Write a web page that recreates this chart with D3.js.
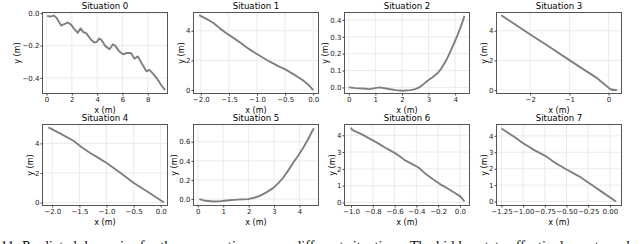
<!DOCTYPE html>
<html lang="en">
<head>
<meta charset="UTF-8">
<title>Predicted dynamics</title>
<style>
  body { margin: 0; background: #fff; }
  svg { display: block; }
  .tick text { font-family: "DejaVu Sans", sans-serif; font-size: 7px; fill: #222; }
  .tick line { stroke: #444; }
</style>
</head>
<body>
<div id="chart"></div>
<script src="https://d3js.org/d3.v7.min.js"></script>
<script>
// ---- data (metres) ----
const titles = ["Situation 0", "Situation 1", "Situation 2", "Situation 3",
                "Situation 4", "Situation 5", "Situation 6", "Situation 7"];

const sit0X = [0.05, 0.27, 0.59, 0.81, 1.16, 1.40, 1.67, 1.94, 2.15, 2.47, 2.69, 2.88, 3.15, 3.50, 3.77, 3.98, 4.17, 4.36, 4.63, 4.98, 5.25, 5.44, 5.71, 6.06, 6.33, 6.67, 6.95, 7.22, 7.54, 7.89, 8.13, 8.43, 8.75, 9.10, 9.37];
const sit0Y = [-0.017, -0.021, -0.015, -0.031, -0.077, -0.067, -0.058, -0.071, -0.094, -0.121, -0.094, -0.115, -0.125, -0.163, -0.181, -0.177, -0.156, -0.167, -0.202, -0.223, -0.192, -0.202, -0.233, -0.254, -0.246, -0.246, -0.281, -0.267, -0.313, -0.359, -0.350, -0.375, -0.406, -0.448, -0.475];

const sit1X = [-2.03, -1.90, -1.78, -1.66, -1.54, -1.40, -1.27, -1.14, -1.01, -0.90, -0.78, -0.63, -0.48, -0.34, -0.19, -0.08, 0.0];
const sit1Y = [5.05, 4.80, 4.54, 4.16, 3.82, 3.47, 3.12, 2.76, 2.45, 2.20, 1.93, 1.63, 1.36, 1.04, 0.68, 0.34, 0.0];

const sit2X = [0.0, 0.25, 0.53, 0.78, 1.15, 1.40, 1.77, 2.02, 2.33, 2.50, 2.65, 2.80, 2.96, 3.15, 3.34, 3.47, 3.59, 3.72, 3.84, 3.97, 4.09, 4.19, 4.28, 4.35];
const sit2Y = [0.0, -0.004, -0.006, -0.010, 0.0, -0.006, -0.016, -0.020, -0.016, -0.010, 0.0, 0.018, 0.040, 0.060, 0.084, 0.110, 0.140, 0.178, 0.220, 0.265, 0.310, 0.350, 0.390, 0.425];

const sit3X = [-2.74, -2.40, -2.0, -1.60, -1.0, -0.60, -0.3, 0.05, 0.20, 0.08];
const sit3Y = [5.05, 4.45, 3.75, 3.07, 2.02, 1.33, 0.82, 0.06, 0.0, 0.0];

const sit4X = [-2.07, -1.84, -1.61, -1.45, -1.30, -1.15, -0.99, -0.74, -0.49, -0.22, 0.06];
const sit4Y = [5.08, 4.65, 4.18, 3.72, 3.35, 3.02, 2.66, 2.00, 1.31, 0.68, 0.0];

const sit5X = [0.06, 0.30, 0.61, 0.85, 1.13, 1.55, 1.98, 2.22, 2.44, 2.70, 2.96, 3.15, 3.35, 3.55, 3.74, 3.94, 4.13, 4.33, 4.52, 4.57];
const sit5Y = [0.0, -0.018, -0.025, -0.024, -0.015, -0.006, 0.0, 0.014, 0.034, 0.070, 0.115, 0.162, 0.220, 0.295, 0.375, 0.450, 0.530, 0.620, 0.720, 0.740];

const sit6X = [-1.0, -0.99, -0.95, -0.90, -0.825, -0.75, -0.67, -0.60, -0.55, -0.508, -0.45, -0.38, -0.32, -0.251, -0.18, -0.12, -0.05, 0.0, 0.043];
const sit6Y = [4.45, 4.32, 4.20, 4.05, 3.78, 3.52, 3.20, 2.95, 2.74, 2.52, 2.33, 2.08, 1.73, 1.40, 1.08, 0.86, 0.58, 0.38, 0.06];

const sit7X = [-1.25, -1.12, -1.00, -0.86, -0.73, -0.62, -0.50, -0.35, -0.22, -0.10, 0.07];
const sit7Y = [4.45, 4.00, 3.55, 3.10, 2.73, 2.32, 1.95, 1.52, 1.05, 0.62, 0.0];

// axis limits and tick labels
const xLims = [[-0.32, 9.56], [-2.13, 0.094], [-0.16, 4.54], [-2.86, 0.33],
               [-2.18, 0.125], [-0.17, 4.75], [-1.06, 0.088], [-1.307, 0.134]];
const yLims = [[-0.496, 0.004], [-0.23, 5.23], [-0.036, 0.444], [-0.23, 5.23],
               [-0.2, 5.28], [-0.067, 0.78], [-0.18, 4.64], [-0.24, 4.69]];
const xTicks = [[0, 2, 4, 6, 8], [-2.0, -1.5, -1.0, -0.5, 0.0], [0, 1, 2, 3, 4], [-2, -1, 0],
                [-2.0, -1.5, -1.0, -0.5, 0.0], [0, 1, 2, 3, 4], [-1.0, -0.8, -0.6, -0.4, -0.2, 0.0],
                [-1.25, -1.00, -0.75, -0.50, -0.25, 0.00]];
const yTicks = [[0.0, -0.2, -0.4], [0, 2, 4], [0.0, 0.1, 0.2, 0.3, 0.4], [0, 2, 4],
                [0, 2, 4], [0.0, 0.2, 0.4, 0.6], [0, 1, 2, 3, 4], [0, 1, 2, 3, 4]];
const xFormats = [".0f", ".1f", ".0f", ".0f", ".1f", ".0f", ".1f", ".2f"];
const yFormats = [".1f", ".0f", ".1f", ".0f", ".0f", ".1f", ".0f", ".0f"];

const seriesX = [sit0X, sit1X, sit2X, sit3X, sit4X, sit5X, sit6X, sit7X];
const seriesY = [sit0Y, sit1Y, sit2Y, sit3Y, sit4Y, sit5Y, sit6Y, sit7Y];

const caption = "11: Predicted dynamics for the same action across different situations. The hidden state effectively captures both";

// ---- layout ----
const W = 640, H = 244;
const colLeft = [42.5, 193.5, 344.5, 496.5];
const plotW = 125;
const rowTop = [12.5, 124.5];
const plotH = 81;

const svg = d3.select("#chart").append("svg")
    .attr("width", W)
    .attr("height", H);

titles.forEach((title, i) => {
    const left = colLeft[i % 4];
    const top = rowTop[Math.floor(i / 4)];

    const x = d3.scaleLinear().domain(xLims[i]).range([left, left + plotW]);
    const y = d3.scaleLinear().domain(yLims[i]).range([top + plotH, top]);

    const g = svg.append("g");

    // grid
    g.selectAll(".gx").data(xTicks[i]).join("line")
        .attr("x1", d => x(d)).attr("x2", d => x(d))
        .attr("y1", top).attr("y2", top + plotH)
        .attr("stroke", "#e6e6e6").attr("stroke-width", 0.8);
    g.selectAll(".gy").data(yTicks[i]).join("line")
        .attr("x1", left).attr("x2", left + plotW)
        .attr("y1", d => y(d)).attr("y2", d => y(d))
        .attr("stroke", "#e6e6e6").attr("stroke-width", 0.8);

    // trajectory
    const pts = seriesX[i].map((v, k) => [v, seriesY[i][k]]);
    g.append("path")
        .datum(pts)
        .attr("fill", "none")
        .attr("stroke", "#7f7f7f")
        .attr("stroke-width", 1.9)
        .attr("stroke-linejoin", "round")
        .attr("d", d3.line().x(d => x(d[0])).y(d => y(d[1])));

    // frame
    g.append("rect")
        .attr("x", left).attr("y", top)
        .attr("width", plotW).attr("height", plotH)
        .attr("fill", "none").attr("stroke", "#555").attr("stroke-width", 1);

    // axes
    const xa = g.append("g")
        .attr("transform", `translate(0,${top + plotH})`)
        .call(d3.axisBottom(x).tickValues(xTicks[i]).tickFormat(d3.format(xFormats[i]))
            .tickSize(2).tickPadding(1.2));
    xa.select(".domain").remove();

    const ya = g.append("g")
        .attr("transform", `translate(${left},0)`)
        .call(d3.axisLeft(y).tickValues(yTicks[i]).tickFormat(d3.format(yFormats[i]))
            .tickSize(2).tickPadding(1));
    ya.select(".domain").remove();

    // titles and labels
    g.append("text")
        .attr("x", left + plotW / 2).attr("y", top - 3.2)
        .attr("text-anchor", "middle")
        .style("font-family", "DejaVu Sans, sans-serif").style("font-size", "8.6px")
        .text(title);

    g.append("text")
        .attr("x", left + plotW / 2).attr("y", top + plotH + 19)
        .attr("text-anchor", "middle")
        .style("font-family", "DejaVu Sans, sans-serif").style("font-size", "8px")
        .text("x (m)");

    // getBBox is in the axis group's own coords, so add the translate back
    const yb = ya.node().getBBox();
    g.append("text")
        .attr("transform", `translate(${left + yb.x - 2.2},${top + plotH / 2}) rotate(-90)`)
        .attr("text-anchor", "middle")
        .style("font-family", "DejaVu Sans, sans-serif").style("font-size", "8px")
        .text("y (m)");
});

// figure caption (partly cut off at the bottom, as in the page crop)
svg.append("text")
    .attr("x", 0.5).attr("y", 250.5)
    .style("font-family", "Liberation Serif, serif").style("font-size", "14.5px")
    .attr("fill", "#111")
    .text(caption);
</script>
</body>
</html>
